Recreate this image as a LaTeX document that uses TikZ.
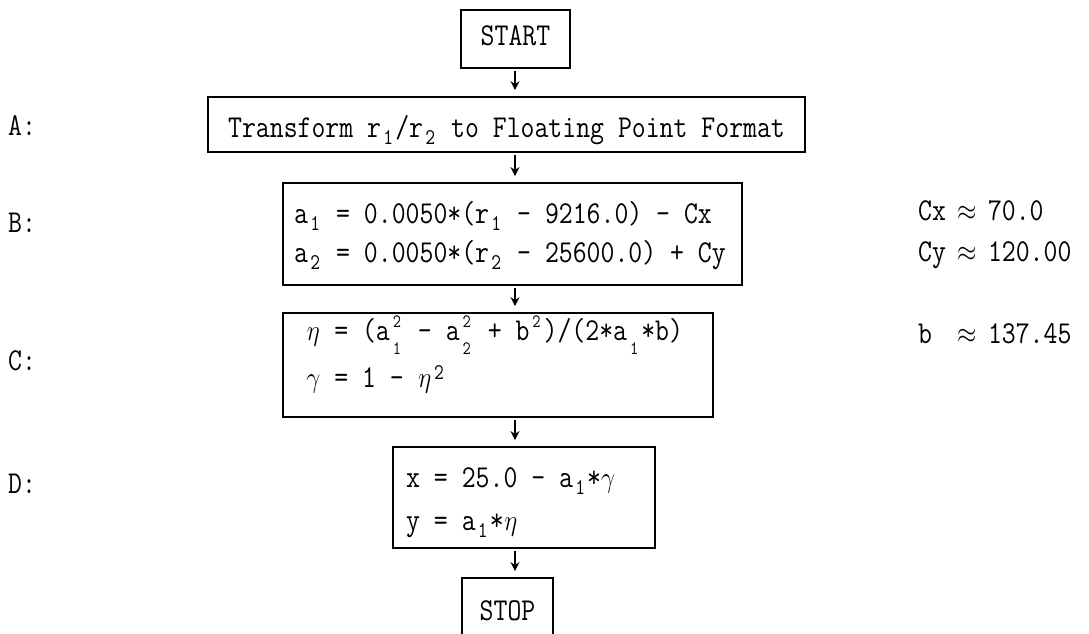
\documentclass[tikz,border=0pt]{standalone}
\usepackage{graphicx}
\usetikzlibrary{arrows.meta}
\newcommand\tcell[1]{\makebox[0.525em][c]{#1}}
\newcommand\tsmall{\fontsize{19}{19}\selectfont}
\newcommand\tsmaller{\fontsize{16}{16}\selectfont}
\newcommand\tsub[1]{\tcell{\raisebox{-0.25em}{\tsmall #1}}}
\newcommand\tsup[1]{\tcell{\raisebox{0.25em}{\tsmall #1}}}
\newcommand\tss[2]{\tcell{\makebox[0pt]{\raisebox{0.4em}[0pt][0pt]{\tsmaller #1}}\makebox[0pt]{\raisebox{-0.45em}[0pt][0pt]{\tsmaller #2}}}}
\newcommand\teta{\tcell{$\eta$}}
\newcommand\tgam{\tcell{$\gamma$}}
\newcommand\tapx{\tcell{$\approx$}}
\newcommand\tx[1]{\scalebox{1}[1.18]{#1}}
\begin{document}
\begin{tikzpicture}[x=1pt,y=-1pt,
  box/.style={draw,line width=1.8pt,inner sep=0pt},
  txt/.style={anchor=base west,inner sep=0pt,font=\ttfamily\fontsize{27}{32}\selectfont},
  ctxt/.style={anchor=base,inner sep=0pt,font=\ttfamily\fontsize{27}{32}\selectfont},
  arr/.style={line width=1.8pt,-{Stealth[length=9pt,width=9pt]},shorten <=2pt,shorten >=6pt}]
\useasboundingbox (0,0) rectangle (1089,634);
\fill[white] (0,0) rectangle (1089,634);
\clip (0,0) rectangle (1089,634);
% boxes
\node[box,minimum width=109pt,minimum height=58pt] (start) at (515.5,39) {};
\node[box,minimum width=597pt,minimum height=55pt] (A) at (506.5,124.5) {};
\node[box,minimum width=459pt,minimum height=102pt] (B) at (512.5,234) {};
\node[box,minimum width=430pt,minimum height=104pt] (C) at (498,365) {};
\node[box,minimum width=262pt,minimum height=101pt] (D) at (524,497.5) {};
\node[box,minimum width=91pt,minimum height=90pt] (stop) at (507.5,623) {};
% texts in boxes
\node[ctxt] (startT) at (515.5,46) {\tx{START}};
\node[ctxt] (AT) at (506.5,137) {\tx{Transform r\tsub{1}/r\tsub{2} to Floating Point Format}};
\node[txt] (B1) at (294,223) {\tx{a\tsub{1} = 0.0050*(r\tsub{1} - 9216.0) - Cx}};
\node[txt] (B2) at (294,262) {\tx{a\tsub{2} = 0.0050*(r\tsub{2} - 25600.0) + Cy}};
\node[txt] (C1) at (306,340) {\tx{\teta{} = (a\tss{2}{1} - a\tss{2}{2} + b\tss{2}{})/(2*a\tss{}{1}*b)}};
\node[txt] (C2) at (306,387) {\tx{\tgam{} = 1 - \teta\tsup{2}}};
\node[txt] (D1) at (406,487) {\tx{x = 25.0 - a\tsub{1}*\tgam}};
\node[txt] (D2) at (406,530) {\tx{y = a\tsub{1}*\teta}};
\node[ctxt] (stopT) at (507.5,620) {\tx{STOP}};
% labels
\node[txt] (LA) at (8,135) {\tx{A:}};
\node[txt] (LB) at (8,232) {\tx{B:}};
\node[txt] (LC) at (8,370) {\tx{C:}};
\node[txt] (LD) at (8,493) {\tx{D:}};
\node[txt] (R1) at (918,220) {\tx{Cx \tapx{} 70.0}};
\node[txt] (R2) at (918,261) {\tx{Cy \tapx{} 120.00}};
\node[txt] (R3) at (918,343) {\tx{b \ \tapx{} 137.45}};
% arrows
\coordinate (ax) at (515,0);
\draw[arr] (start.south -| ax) -- (A.north -| ax);
\draw[arr] (A.south -| ax) -- (B.north -| ax);
\draw[arr] (B.south -| ax) -- (C.north -| ax);
\draw[arr] (C.south -| ax) -- (D.north -| ax);
\draw[arr] (D.south -| ax) -- (stop.north -| ax);
\end{tikzpicture}
\end{document}
